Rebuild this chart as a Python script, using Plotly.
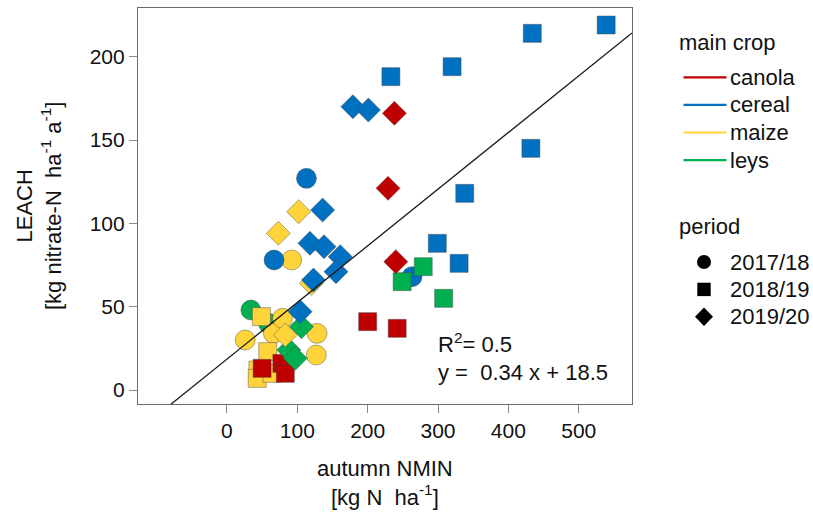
import plotly.graph_objects as go

# ---------------- data ----------------
periods = ["2017/18", "2018/19", "2019/20"]
crops = ["canola", "cereal", "maize", "leys"]

# autumn NMIN (x, kg N/ha) and LEACH (y, kg nitrate-N/ha/a)
canola_1718_x = []
canola_1718_y = []
canola_1819_x = [200, 242, 50, 78, 83]
canola_1819_y = [41, 37, 13, 16, 10]
canola_1920_x = [238, 229, 240]
canola_1920_y = [166, 121, 77]

cereal_1718_x = [113, 67, 263]
cereal_1718_y = [127, 78, 68]
cereal_1819_x = [539, 434, 320, 233, 432, 338, 299, 330]
cereal_1819_y = [219, 214, 194, 188, 145, 118, 88, 76]
cereal_1920_x = [179, 201, 136, 118, 138, 161, 155, 123, 104]
cereal_1920_y = [170, 168, 108, 88, 86, 80, 71, 66, 47]

maize_1718_x = [92, 26, 66, 79, 128, 127]
maize_1718_y = [78, 30, 34, 43, 34, 21]
maize_1819_x = [49, 58, 44, 43, 64]
maize_1819_y = [44, 23, 12, 7, 10]
maize_1920_x = [102, 73, 120, 83]
maize_1920_y = [107, 94, 64, 33]

leys_1718_x = [34, 59]
leys_1718_y = [48, 40]
leys_1819_x = [279, 308, 249]
leys_1819_y = [74, 55, 65]
leys_1920_x = [106, 88, 97]
leys_1920_y = [38, 24, 19]

# linear fit shown on the chart
fit_slope = 0.34
fit_intercept = 18.5
fit_r2 = 0.5

x_ticks = [0, 100, 200, 300, 400, 500]
y_ticks = [0, 50, 100, 150, 200]

# ---------------- styling ----------------
crop_color = {"canola": "#C00000", "cereal": "#0070C0",
              "maize": "#FFD43B", "leys": "#00B050"}
period_symbol = {"2017/18": "circle", "2018/19": "square", "2019/20": "diamond"}
period_size = {"2017/18": 20, "2018/19": 18, "2019/20": 18.5}

data = {
    ("canola", "2017/18"): (canola_1718_x, canola_1718_y),
    ("canola", "2018/19"): (canola_1819_x, canola_1819_y),
    ("canola", "2019/20"): (canola_1920_x, canola_1920_y),
    ("cereal", "2017/18"): (cereal_1718_x, cereal_1718_y),
    ("cereal", "2018/19"): (cereal_1819_x, cereal_1819_y),
    ("cereal", "2019/20"): (cereal_1920_x, cereal_1920_y),
    ("maize", "2017/18"): (maize_1718_x, maize_1718_y),
    ("maize", "2018/19"): (maize_1819_x, maize_1819_y),
    ("maize", "2019/20"): (maize_1920_x, maize_1920_y),
    ("leys", "2017/18"): (leys_1718_x, leys_1718_y),
    ("leys", "2018/19"): (leys_1819_x, leys_1819_y),
    ("leys", "2019/20"): (leys_1920_x, leys_1920_y),
}

FONT = "Liberation Sans, Arial, sans-serif"
W, H = 813, 513
L, R, T, B = 138, 181, 8, 109
PW, PH = W - L - R, H - T - B
X_RANGE = [-126.4, 575.7]
Y_RANGE = [-8.4, 229.2]


def pxx(x):
    return (x - L) / PW


def pxy(y):
    return (H - B - y) / PH


fig = go.Figure()

draw_order = ["leys", "maize", "canola", "cereal"]
for per in periods:
    for crop in draw_order:
        xs, ys = data[(crop, per)]
        if not xs:
            continue
        fig.add_trace(go.Scatter(
            x=xs, y=ys, mode="markers", showlegend=False,
            name=f"{crop} {per}",
            marker=dict(symbol=period_symbol[per], size=period_size[per],
                        color=crop_color[crop],
                        line=dict(color="rgba(70,70,70,0.55)", width=0.8)),
        ))

# regression line across the axis range (clipped by the plot area)
fx = [X_RANGE[0], X_RANGE[1]]
fy = [fit_slope * v + fit_intercept for v in fx]
fig.add_trace(go.Scatter(x=fx, y=fy, mode="lines", showlegend=False,
                         line=dict(color="#1a1a1a", width=1.3),
                         hoverinfo="skip"))

ann = []
shapes = []

# fit annotation
ann.append(dict(text=f"R<sup>2</sup>= {fit_r2}", x=pxx(436), y=pxy(343),
                xref="paper", yref="paper", xanchor="left", yanchor="middle",
                showarrow=False, font=dict(size=22, color="#111")))
ann.append(dict(text=f"y =\u00a0 {fit_slope} x + {fit_intercept}", x=pxx(436), y=pxy(372),
                xref="paper", yref="paper", xanchor="left", yanchor="middle",
                showarrow=False, font=dict(size=22, color="#111")))

# axis titles
ann.append(dict(text="autumn NMIN<br>[kg N\u00a0\u00a0ha<sup>-1</sup>]",
                x=0.5, y=pxy(483), xref="paper", yref="paper",
                xanchor="center", yanchor="middle", showarrow=False,
                font=dict(size=22, color="#111")))
ann.append(dict(text="LEACH<br>[kg nitrate-N\u00a0\u00a0ha<sup>-1</sup> a<sup>-1</sup>]",
                x=pxx(39), y=pxy(206), xref="paper", yref="paper",
                xanchor="center", yanchor="middle", textangle=-90,
                showarrow=False, font=dict(size=22, color="#111")))

# legend: main crop
ann.append(dict(text="main crop", x=pxx(677), y=pxy(42), xref="paper", yref="paper",
                xanchor="left", yanchor="middle", showarrow=False,
                font=dict(size=22, color="#111")))
for i, crop in enumerate(crops):
    yy = 77.3 + i * 27.6
    shapes.append(dict(type="line", xref="paper", yref="paper",
                       x0=pxx(683.5), x1=pxx(726.5), y0=pxy(yy), y1=pxy(yy),
                       line=dict(color=crop_color[crop], width=2.2)))
    ann.append(dict(text=crop, x=pxx(728), y=pxy(yy), xref="paper", yref="paper",
                    xanchor="left", yanchor="middle", showarrow=False,
                    font=dict(size=22, color="#111")))

# legend: period
ann.append(dict(text="period", x=pxx(677), y=pxy(226), xref="paper", yref="paper",
                xanchor="left", yanchor="middle", showarrow=False,
                font=dict(size=22, color="#111")))
for i, per in enumerate(periods):
    yy = 262 + i * 27.4
    if per == "2017/18":
        shapes.append(dict(type="circle", xref="paper", yref="paper",
                           xsizemode="pixel", ysizemode="pixel",
                           xanchor=pxx(704), yanchor=pxy(yy),
                           x0=-7, x1=7, y0=-7, y1=7,
                           fillcolor="black", line=dict(width=0)))
    elif per == "2018/19":
        shapes.append(dict(type="rect", xref="paper", yref="paper",
                           xsizemode="pixel", ysizemode="pixel",
                           xanchor=pxx(704), yanchor=pxy(yy),
                           x0=-6.7, x1=6.7, y0=-6.7, y1=6.7,
                           fillcolor="black", line=dict(width=0)))
    else:
        shapes.append(dict(type="path", xref="paper", yref="paper",
                           xsizemode="pixel", ysizemode="pixel",
                           xanchor=pxx(704), yanchor=pxy(yy),
                           path="M0,9.3 L9,0 L0,-9.3 L-9,0 Z",
                           fillcolor="black", line=dict(width=0)))
    ann.append(dict(text=per, x=pxx(728), y=pxy(yy), xref="paper", yref="paper",
                    xanchor="left", yanchor="middle", showarrow=False,
                    font=dict(size=22, color="#111")))

axis_common = dict(showgrid=False, zeroline=False, showline=True, mirror=True,
                   linecolor="#6b6b6b", linewidth=1.2, ticks="outside",
                   ticklen=8, tickwidth=1.2, tickcolor="#8a8a8a",
                   tickfont=dict(size=21, color="#111"))

fig.update_layout(
    width=W, height=H,
    margin=dict(l=L, r=R, t=T, b=B),
    paper_bgcolor="white", plot_bgcolor="white",
    font=dict(family=FONT, color="#111"),
    xaxis=dict(range=X_RANGE, tickvals=x_ticks, **axis_common),
    yaxis=dict(range=Y_RANGE, tickvals=y_ticks, **axis_common),
    annotations=ann, shapes=shapes, showlegend=False,
)

fig.write_html(
    "out.html",
    config={"displayModeBar": False},
    post_script="document.body.style.margin='0';document.body.style.overflow='hidden';",
)
